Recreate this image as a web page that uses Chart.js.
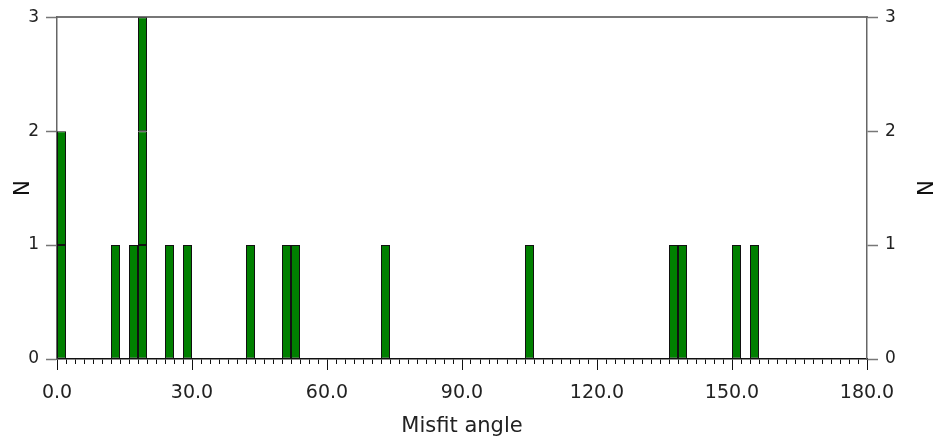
<!DOCTYPE html>
<html><head><meta charset="utf-8">
<script src="https://cdn.jsdelivr.net/npm/chart.js@4/dist/chart.umd.min.js"></script>
<style>html,body{margin:0;padding:0;background:#fff}</style>
</head><body>
<canvas id="c" width="938" height="443"></canvas>
<script>
// ---- data ----
const binStarts = [0, 12, 16, 18, 24, 28, 42, 50, 52, 72, 104, 136, 138, 150, 154];
const counts    = [2,  1,  1,  3,  1,  1,  1,  1,  1,  1,   1,   1,   1,   1,   1];
const binWidth  = 2;
const xRange    = [0, 180];
const xTicksMajor = [0, 30, 60, 90, 120, 150, 180];
const yRange    = [0, 3];
const yTicks    = [0, 1, 2, 3];
const xTitle    = 'Misfit angle';
const yTitle    = 'N';

// each histogram column is drawn as stacked unit boxes
const maxCount = Math.max(...counts);
const layers = [];
for (let k = 1; k <= maxCount; k++) {
  layers.push(binStarts
    .map((s, i) => counts[i] >= k ? { x: s + binWidth / 2, y: 1 } : null)
    .filter(Boolean));
}

const FONT = 'DejaVu Sans';
const setTicks = arr => s => { s.ticks = arr.map(v => ({ value: v })); };

new Chart(document.getElementById('c'), {
  type: 'bar',
  data: {
    datasets: layers.map(d => ({
      data: d,
      xAxisID: 'x',
      yAxisID: 'y',
      backgroundColor: '#008000',
      borderColor: '#111',
      borderWidth: 1,
      borderSkipped: false,
      inflateAmount: 0,
      barPercentage: 1,
      categoryPercentage: 1
    }))
  },
  options: {
    responsive: false,
    devicePixelRatio: 1,
    animation: false,
    layout: { padding: { top: 14, left: 0, right: 0, bottom: 0 } },
    plugins: { legend: { display: false }, tooltip: { enabled: false } },
    scales: {
      x: {
        type: 'linear', position: 'bottom', min: xRange[0], max: xRange[1],
        offset: false, stacked: true, weight: 0,
        grid: { display: true, drawOnChartArea: false, offset: false, drawTicks: true, tickLength: 5, color: '#111', tickWidth: 1 },
        border: { display: true, color: '#111', width: 1.5 },
        ticks: { display: false, stepSize: binWidth, autoSkip: false },
        afterFit: s => { s.height = 5; }
      },
      x2: {
        type: 'linear', position: 'bottom', min: xRange[0], max: xRange[1],
        offset: false, weight: 1,
        grid: { display: true, drawOnChartArea: false, offset: false, drawTicks: true, tickLength: 6, color: '#111', tickWidth: 1 },
        border: { display: false },
        afterBuildTicks: setTicks(xTicksMajor),
        ticks: {
          autoSkip: false, maxRotation: 0, padding: 12,
          font: { family: FONT, size: 19 }, color: '#222',
          callback: v => Number(v).toFixed(1)
        },
        title: { display: true, text: xTitle, font: { family: FONT, size: 21 }, color: '#222', padding: { top: 0, bottom: 4 } },
        afterFit: s => { s.height = 79; }
      },
      xTop: {
        type: 'linear', position: 'top', min: xRange[0], max: xRange[1],
        offset: false,
        grid: { display: false, drawTicks: false },
        border: { display: true, color: '#777', width: 2 },
        ticks: { display: false },
        afterFit: s => { s.height = 0; }
      },
      y: {
        type: 'linear', position: 'left', min: yRange[0], max: yRange[1], stacked: true,
        grid: { display: true, drawOnChartArea: false, drawTicks: true, tickLength: 11, color: '#777', tickWidth: 1.5 },
        border: { display: true, color: '#666', width: 1.5 },
        afterBuildTicks: setTicks(yTicks),
        ticks: { padding: 7, font: { family: FONT, size: 17 }, color: '#222' },
        title: { display: true, text: yTitle, font: { family: FONT, size: 21 }, color: '#111', padding: { top: 11, bottom: 0 } },
        afterFit: s => { s.width = 57; }
      },
      y2: {
        type: 'linear', position: 'right', min: yRange[0], max: yRange[1],
        grid: { display: true, drawOnChartArea: false, drawTicks: true, tickLength: 11, color: '#777', tickWidth: 1.5 },
        border: { display: true, color: '#666', width: 1.5 },
        afterBuildTicks: setTicks(yTicks),
        ticks: { padding: 7, font: { family: FONT, size: 17 }, color: '#222' },
        title: { display: true, text: yTitle, font: { family: FONT, size: 21 }, color: '#111', padding: { top: 2.5, bottom: 0 } },
        afterFit: s => { s.width = 71; }
      }
    }
  }
});
</script>
</body></html>
